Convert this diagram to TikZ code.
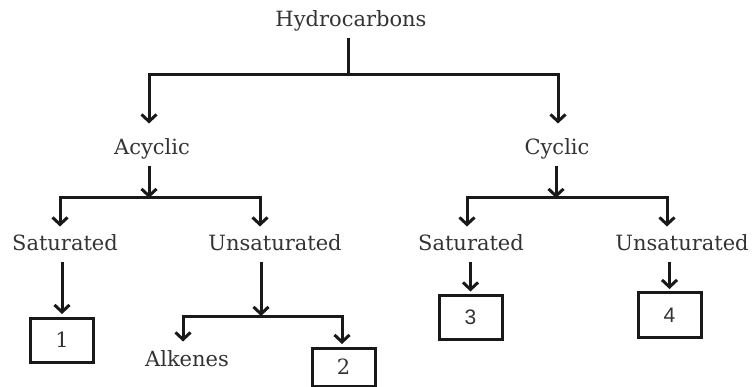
\documentclass[tikz,border=0pt]{standalone}
\usepackage{fontspec}
\setmainfont{DejaVu Serif}
\setsansfont{Liberation Sans}
\usetikzlibrary{arrows.meta}

\begin{document}
\begin{tikzpicture}[x=1pt,y=-1pt,line width=3pt,draw=black!90,
  >={Straight Barb[length=7pt,width=15pt]},
  lbl/.style={inner sep=0pt, text height=23pt, text depth=10pt, anchor=base, text=black!80, font=\fontsize{21}{25}\selectfont},
  box/.style={rectangle, draw=black!90, line width=3pt, minimum width=63pt, minimum height=44pt, outer ysep=4pt, text=black!80, font=\fontsize{21}{25}\selectfont}]
\useasboundingbox (0,0) rectangle (752,387);

\node[lbl] (0) at (351,27) {Hydrocarbons};
\node[lbl] (1) at (152,155) {Acyclic};
\node[lbl] (2) at (557,155) {Cyclic};
\node[lbl] (3) at (65,251) {Saturated};
\node[lbl] (4) at (275,251) {Unsaturated};
\node[lbl] (5) at (471,251) {Saturated};
\node[lbl] (6) at (682,251) {Unsaturated};
\node[lbl] (7) at (187,366) {Alkenes};

\node[box] (8) at (62,340) {1};
\node[box, minimum height=38pt] (9) at (343.5,367) {2};
\node[box, font=\sffamily\fontsize{21}{25}\selectfont] (10) at (470.5,317.5) {3};
\node[box, font=\sffamily\fontsize{21}{25}\selectfont] (11) at (669.5,315) {4};

\coordinate (t) at (348,75);
\coordinate (tl) at (149,75);
\coordinate (tr) at (558,75);
\coordinate (a) at (149,198);
\coordinate (al) at (60,198);
\coordinate (ar) at (260,198);
\coordinate (u) at (261,316);
\coordinate (ul) at (183,316);
\coordinate (ur) at (342,316);
\coordinate (c) at (556,198);
\coordinate (cl) at (467,198);
\coordinate (cr) at (667,198);

\draw (t |- 0.south) -- (t);
\draw[->, shorten >=7pt] (t) -| (tl |- 1.north);
\draw[->, shorten >=7pt] (t) -| (tr |- 2.north);

\draw[->] (a |- 1.south) -- (a);
\draw[->] (a) -| (al |- 3.north);
\draw[->] (a) -| (ar |- 4.north);
\draw[->] (8 |- 3.south) -- (8);
\draw[->] (u |- 4.south) -- (u);
\draw[->] (u) -| (ul |- 7.north);
\draw[->] (u) -| (ur |- 9.north);

\draw[->] (c |- 2.south) -- (c);
\draw[->] (c) -| (cl |- 5.north);
\draw[->] (c) -| (cr |- 6.north);
\draw[->] (10 |- 5.south) -- (10);
\draw[->] (11 |- 6.south) -- (11);
\end{tikzpicture}
\end{document}
